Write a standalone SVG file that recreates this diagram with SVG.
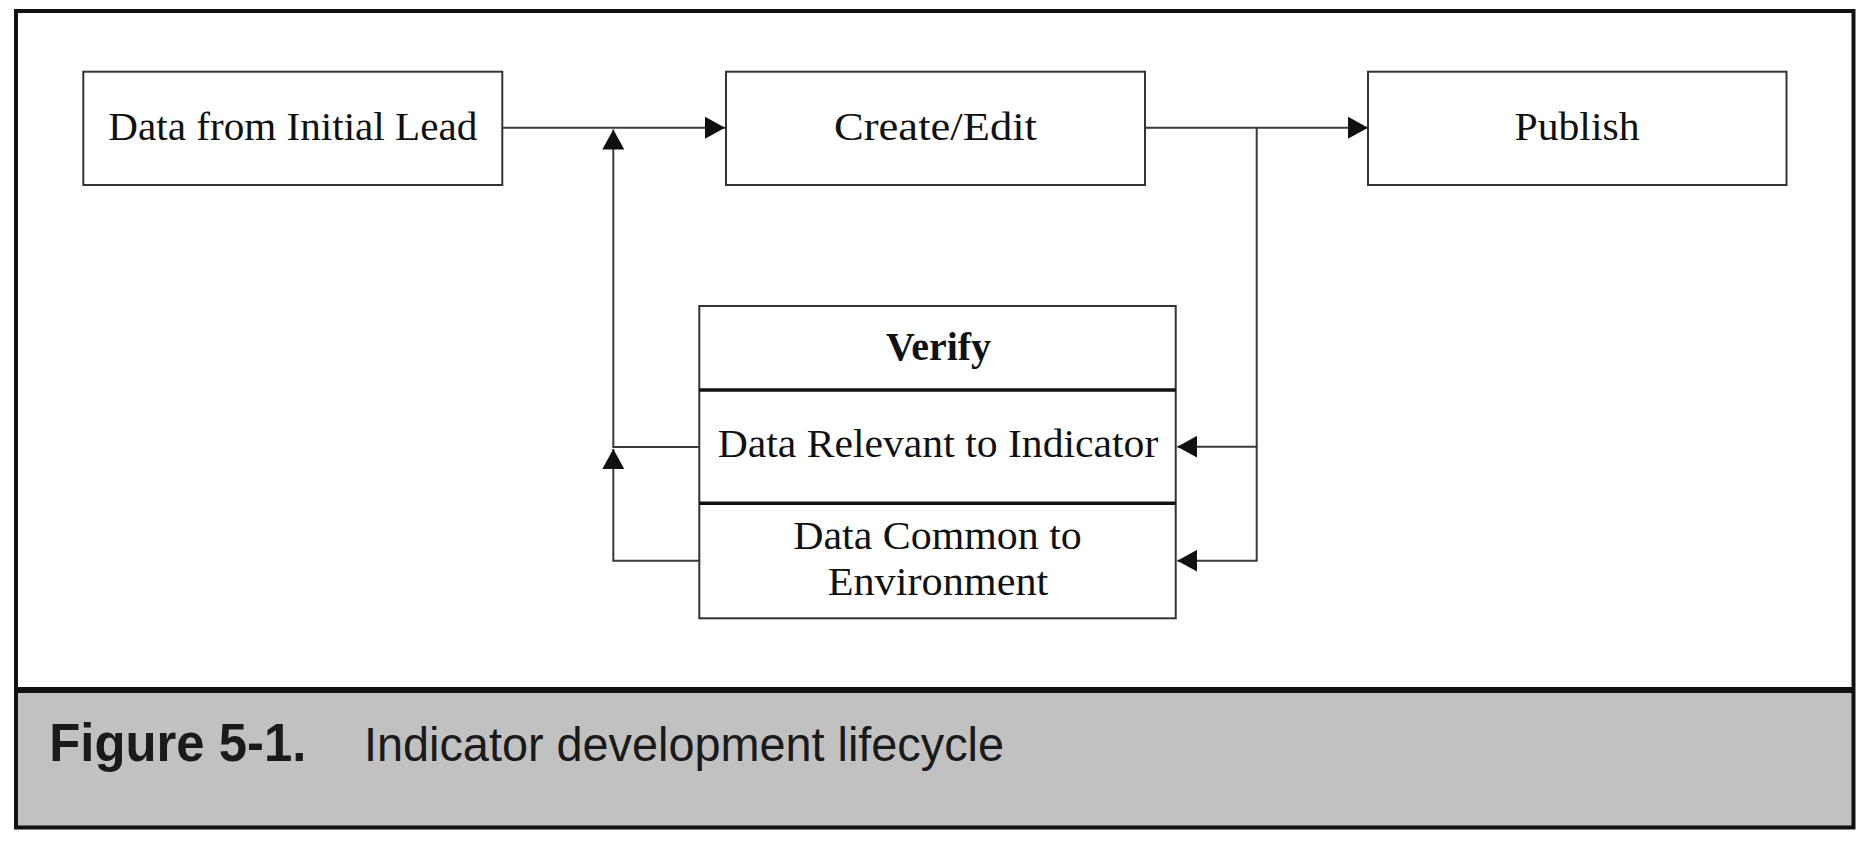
<svg xmlns="http://www.w3.org/2000/svg" width="1870" height="844" viewBox="0 0 1870 844">
<style>
.box{fill:#fff;stroke:#333;stroke-width:2}
.div{stroke:#111;stroke-width:3.5}
.lbl{font-family:"Liberation Serif","Times New Roman",serif;font-size:40px;fill:#111;text-anchor:middle}
.bold{font-weight:bold}
.conn{fill:none;stroke:#3a3a3a;stroke-width:2}
.cap{font-family:"Liberation Sans",Arial,sans-serif;fill:#1a1a1a}
</style>
<defs>
<marker id="ah" viewBox="0 0 20 22" refX="20" refY="11" markerWidth="20" markerHeight="22" markerUnits="userSpaceOnUse" orient="auto">
<path d="M0,0 L20,11 L0,22 Z" fill="#111"/>
</marker>
</defs>
<rect x="0" y="0" width="1870" height="844" fill="#fff"/>
<g id="frame">
<rect x="16" y="690" width="1837.5" height="137.5" fill="#c0c1c0"/>
<rect x="16" y="11" width="1837.5" height="816.5" fill="none" stroke="#111" stroke-width="4"/>
<line x1="16" y1="690" x2="1853.5" y2="690" stroke="#111" stroke-width="6"/>
</g>
<g id="caption">
<text class="cap" x="49.3" y="760.7" font-size="53" font-weight="bold" textLength="257" lengthAdjust="spacingAndGlyphs">Figure 5-1.</text>
<text class="cap" x="364" y="760.7" font-size="48" textLength="640" lengthAdjust="spacingAndGlyphs">Indicator development lifecycle</text>
</g>
<g id="connectors">
<line class="conn" x1="502.3" y1="127.7" x2="725" y2="127.7" marker-end="url(#ah)"/>
<line class="conn" x1="1145" y1="127.7" x2="1368" y2="127.7" marker-end="url(#ah)"/>
<polyline class="conn" points="699.3,447 613.3,447 613.3,129.5" marker-end="url(#ah)"/>
<polyline class="conn" points="699.3,560.7 613.3,560.7 613.3,449" marker-end="url(#ah)"/>
<polyline class="conn" points="1256.7,127.7 1256.7,446.7 1177.3,446.7" marker-end="url(#ah)"/>
<polyline class="conn" points="1256.7,446.7 1256.7,560.7 1177.3,560.7" marker-end="url(#ah)"/>
</g>
<g id="node-initial-lead">
<rect class="box" x="83.3" y="71.7" width="419" height="113.3"/>
<text class="lbl" x="292.8" y="140" textLength="369" lengthAdjust="spacingAndGlyphs">Data from Initial Lead</text>
</g>
<g id="node-create-edit">
<rect class="box" x="726" y="71.7" width="419" height="113.3"/>
<text class="lbl" x="935.5" y="140" textLength="203" lengthAdjust="spacingAndGlyphs">Create/Edit</text>
</g>
<g id="node-publish">
<rect class="box" x="1368" y="71.7" width="418.5" height="113.3"/>
<text class="lbl" x="1577" y="140" textLength="125" lengthAdjust="spacingAndGlyphs">Publish</text>
</g>
<g id="node-verify">
<rect class="box" x="699.3" y="306" width="476.4" height="312.3"/>
<line class="div" x1="699.3" y1="390" x2="1175.7" y2="390"/>
<line class="div" x1="699.3" y1="503.3" x2="1175.7" y2="503.3"/>
<text class="lbl bold" x="938.5" y="360" textLength="105" lengthAdjust="spacingAndGlyphs">Verify</text>
<text class="lbl" x="938" y="457.3" textLength="440.6" lengthAdjust="spacingAndGlyphs">Data Relevant to Indicator</text>
<text class="lbl" x="937.5" y="549.3" textLength="288.4" lengthAdjust="spacingAndGlyphs">Data Common to</text>
<text class="lbl" x="938" y="595" textLength="220.6" lengthAdjust="spacingAndGlyphs">Environment</text>
</g>
</svg>
